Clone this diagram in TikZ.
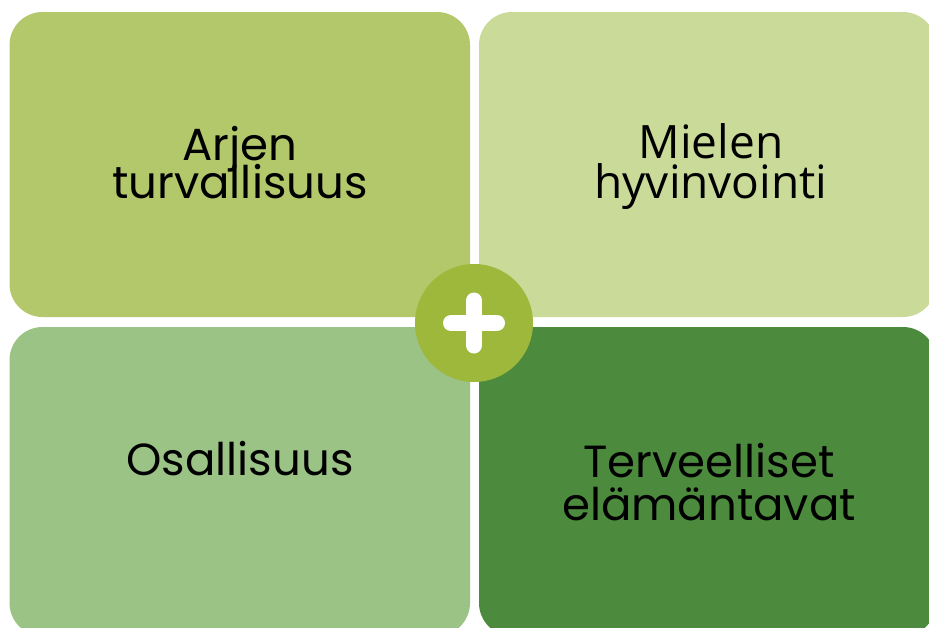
\documentclass[tikz,border=0pt]{standalone}
\usepackage{fontspec}
\setmainfont{Poppins}
\newfontfamily\humanfont{Open Sans}
\definecolor{cTL}{HTML}{B2C86B}
\definecolor{cTR}{HTML}{CADA99}
\definecolor{cBL}{HTML}{9BC386}
\definecolor{cBR}{HTML}{4C8B3D}
\definecolor{cCirc}{HTML}{9DB83A}
\tikzset{
  panel/.style={rectangle, rounded corners=33pt, inner sep=0pt, outer sep=0pt, draw=none},
  label/.style={anchor=base, inner sep=0pt, text=black, text height=33pt, text depth=4pt, font=\fontsize{45}{45}\selectfont},
  hlabel/.style={anchor=base, inner sep=0pt, text=black, text height=33pt, text depth=4pt, font=\humanfont\fontsize{46}{46}\selectfont},
}
\begin{document}
\begin{tikzpicture}[x=1pt,y=-1pt]
\useasboundingbox (0,0) rectangle (929,627);
\clip (0,0) rectangle (929,627);
\node[panel, fill=cTL, minimum width=460.5pt, minimum height=305pt] (tl) at (239.75,164.5) {};
\node[panel, fill=cTR, minimum width=457pt, minimum height=305pt] (tr) at (707.5,164.5) {};
\node[panel, fill=cBL, minimum width=460.5pt, minimum height=309pt] (bl) at (239.75,481.5) {};
\node[panel, fill=cBR, minimum width=457pt, minimum height=309pt] (br) at (707.5,481.5) {};
\node[label] (tla) at (240,160) {Arjen};
\node[label] (tlb) at (240,198) {turvallisuus};
\node[hlabel] (tra) at (711,158) {Mielen};
\node[hlabel] (trb) at (711,198) {hyvinvointi};
\node[label] (bla) at (240,475) {Osallisuus};
\node[label] (bra) at (709,477) {Terveelliset};
\node[label] (brb) at (709,520) {elämäntavat};
\node[circle, fill=cCirc, minimum size=118pt, inner sep=0pt] (plus) at (474,323) {};
\draw[white, line width=16pt, line cap=round] ([xshift=-23pt]plus.center) -- ([xshift=23pt]plus.center);
\draw[white, line width=16pt, line cap=round] ([yshift=22.5pt]plus.center) -- ([yshift=-22.5pt]plus.center);
\end{tikzpicture}
\end{document}
